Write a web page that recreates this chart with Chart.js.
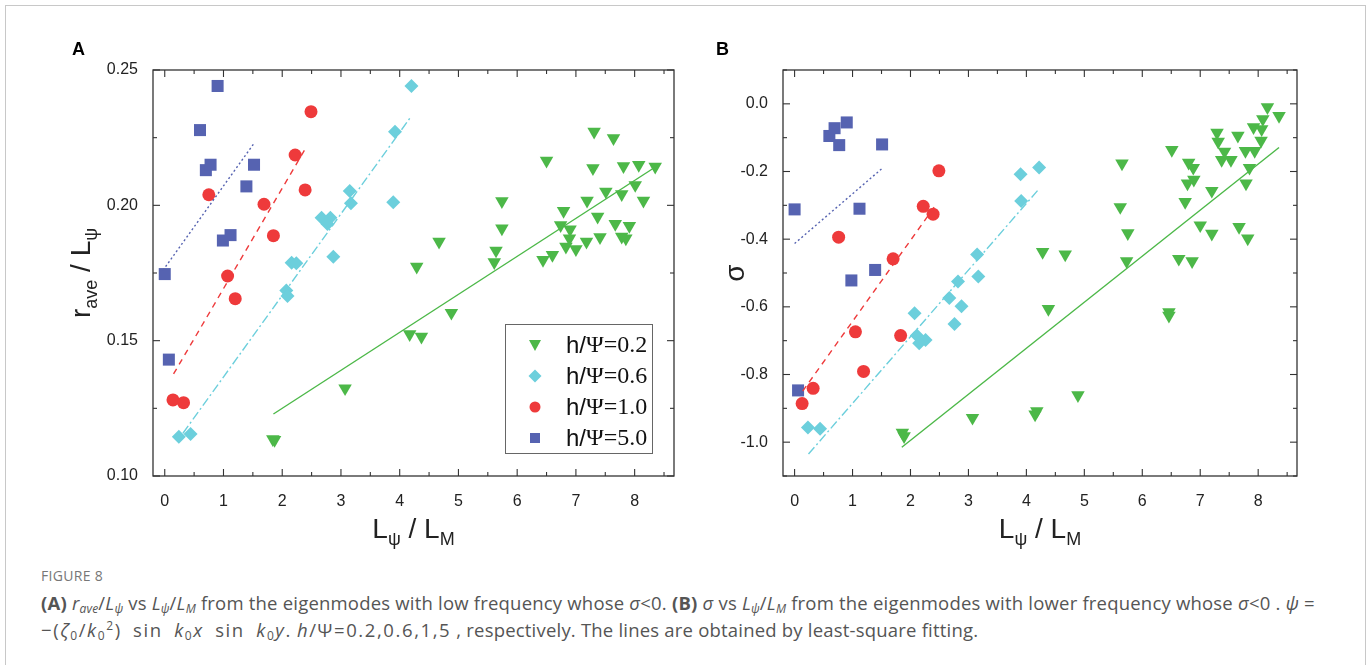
<!DOCTYPE html>
<html>
<head>
<meta charset="utf-8">
<script src="https://cdn.jsdelivr.net/npm/chart.js@4/dist/chart.umd.min.js"></script>
<style>
  body { margin: 0; background: #fff; width: 1370px; height: 665px; overflow: hidden; position: relative; }
  #box { position: absolute; left: 5px; top: 5px; width: 1359px; height: 700px; border: 1px solid #c8c8c8; }
  #cA { position: absolute; left: 0; top: 0; }
  #cB { position: absolute; left: 640px; top: 0; }
  .fig { position: absolute; left: 41px; top: 566px; font: 14px "Open Sans", sans-serif; color: #777; letter-spacing: 0.3px; }
  .cap { position: absolute; left: 41px; top: 589px; font: 18.5px/27px "Open Sans", sans-serif; color: #555; white-space: nowrap; letter-spacing: 0.2px; }
  .cap sub { font-size: 12px; vertical-align: -3px; line-height: 0; }
  .cap sup { font-size: 12px; vertical-align: 7px; line-height: 0; }
  .math { letter-spacing: 1.6px; word-spacing: 5px; }
</style>
</head>
<body>
<div id="box"></div>
<canvas id="cA" width="690" height="555"></canvas>
<canvas id="cB" width="670" height="555"></canvas>
<div class="fig">FIGURE 8</div>
<div class="cap"><b>(A)</b> <i>r<sub>ave</sub></i>/<i>L<sub>ψ</sub></i> vs <i>L<sub>ψ</sub></i>/<i>L<sub>M</sub></i> from the eigenmodes with low frequency whose <i>σ</i>&lt;0. <b>(B)</b> <i>σ</i> vs <i>L<sub>ψ</sub></i>/<i>L<sub>M</sub></i> from the eigenmodes with lower frequency whose <i>σ</i>&lt;0 . <i>ψ</i> =<br><span class="math">−(<i>ζ</i><sub>0</sub>/<i>k</i><sub>0</sub><sup>2</sup>) sin <i>k</i><sub>0</sub><i>x</i> sin <i>k</i><sub>0</sub><i>y</i>.</span> <span class="math"><i>h</i>/Ψ=0.2,0.6,1,5</span> , respectively. The lines are obtained by least-square fitting.</div>

<script>
// series labels
const seriesLabels = ['h/Ψ=0.2', 'h/Ψ=0.6', 'h/Ψ=1.0', 'h/Ψ=5.0'];

// axis ticks
const xMajor = [0, 1, 2, 3, 4, 5, 6, 7, 8];
const xMinor = [0.5, 1.5, 2.5, 3.5, 4.5, 5.5, 6.5, 7.5, 8.5];
const yMajorA = [0.10, 0.15, 0.20, 0.25];
const yMinorA = [0.125, 0.175, 0.225];
const yMajorB = [-1.0, -0.8, -0.6, -0.4, -0.2, 0.0];
const yMinorB = [-1.1, -0.9, -0.7, -0.5, -0.3, -0.1, 0.1];

// ---- panel A : r_ave / L_psi ----
const a02x = [7.31, 7.64, 6.50, 7.29, 7.81, 8.07, 8.35, 8.01, 5.74, 7.51, 7.78, 7.19, 8.15, 6.79, 7.37, 6.74, 6.90, 5.74, 7.67, 7.91,
              6.89, 7.18, 7.41, 7.78, 7.85, 6.83, 7.00, 4.67, 5.64, 5.61, 4.29, 6.44, 6.60, 4.17, 4.37, 4.88, 1.87, 1.84, 3.07];
const a02y = [0.2272, 0.2248, 0.2165, 0.2137, 0.2145, 0.2149, 0.2143, 0.2075, 0.2015, 0.2051, 0.2041, 0.2017, 0.2017, 0.1979, 0.1958, 0.1927, 0.1911, 0.1915, 0.1931, 0.1924,
              0.1878, 0.1866, 0.1882, 0.1884, 0.1878, 0.1847, 0.1838, 0.1866, 0.1833, 0.1790, 0.1773, 0.1798, 0.1817, 0.1524, 0.1515, 0.1603, 0.1133, 0.1136, 0.1324];
const a06x = [4.20, 3.92, 3.15, 3.17, 3.89, 2.67, 2.82, 2.77, 2.87, 2.16, 2.24, 2.07, 2.09, 0.24, 0.44];
const a06y = [0.2441, 0.2272, 0.2053, 0.2008, 0.2011, 0.1954, 0.1954, 0.1931, 0.1810, 0.1788, 0.1786, 0.1685, 0.1665, 0.1145, 0.1155];
const a10x = [2.49, 2.22, 2.39, 1.69, 1.85, 0.75, 1.07, 1.20, 0.14, 0.32];
const a10y = [0.2346, 0.2186, 0.2057, 0.2004, 0.1888, 0.2039, 0.1739, 0.1655, 0.1281, 0.1271];
const a50x = [0.00, 0.07, 0.90, 0.60, 0.70, 0.78, 1.39, 1.52, 0.99, 1.12];
const a50y = [0.1746, 0.1430, 0.2441, 0.2278, 0.2130, 0.2150, 0.2070, 0.2150, 0.1870, 0.1890];
// fitted lines (end points)
const a02fitX = [1.85, 8.32], a02fitY = [0.1229, 0.2137];
const a06fitX = [0.31, 4.18], a06fitY = [0.1158, 0.2324];
const a10fitX = [0.15, 2.42], a10fitY = [0.1377, 0.2219];
const a50fitX = [-0.03, 1.52], a50fitY = [0.1760, 0.2229];

// ---- panel B : sigma ----
const b02x = [8.16, 8.36, 8.08, 7.92, 8.06, 7.29, 7.65, 8.05, 7.31, 7.78, 7.94, 7.42, 7.53, 7.37, 6.51, 5.65, 6.80, 6.88, 7.85, 6.89,
              6.78, 7.79, 7.20, 6.74, 5.62, 7.00, 7.20, 7.67, 7.82, 5.75, 4.28, 4.67, 5.73, 6.63, 6.86, 4.38, 6.46, 6.46, 4.89, 4.18,
              4.15, 1.86, 1.89, 3.07];
const b02y = [-0.010, -0.036, -0.045, -0.069, -0.075, -0.085, -0.094, -0.109, -0.112, -0.139, -0.139, -0.141, -0.166, -0.166, -0.136, -0.176, -0.174, -0.189, -0.189, -0.224,
              -0.235, -0.235, -0.257, -0.290, -0.305, -0.359, -0.384, -0.364, -0.398, -0.382, -0.438, -0.445, -0.465, -0.458, -0.465, -0.606, -0.616, -0.626, -0.861, -0.908,
              -0.918, -0.972, -0.982, -0.928];
const b06x = [3.90, 4.22, 3.91, 3.15, 2.82, 3.17, 2.67, 2.88, 2.76, 2.07, 2.11, 2.26, 2.15, 0.23, 0.44];
const b06y = [-0.208, -0.188, -0.287, -0.445, -0.525, -0.510, -0.574, -0.598, -0.651, -0.619, -0.685, -0.698, -0.708, -0.957, -0.960];
const b10x = [2.49, 2.22, 2.39, 0.76, 1.70, 1.05, 1.83, 1.19, 0.32, 0.13];
const b10y = [-0.198, -0.303, -0.326, -0.394, -0.458, -0.674, -0.685, -0.791, -0.841, -0.886];
const b50x = [0.60, 0.69, 0.90, 0.77, 1.51, 0.00, 1.12, 1.39, 0.98, 0.06];
const b50y = [-0.095, -0.072, -0.055, -0.122, -0.120, -0.312, -0.310, -0.491, -0.522, -0.847];
const b02fitX = [1.85, 8.36], b02fitY = [-1.015, -0.129];
const b06fitX = [0.24, 4.20], b06fitY = [-1.035, -0.255];
const b10fitX = [0.14, 2.42], b10fitY = [-0.849, -0.303];
const b50fitX = [0.00, 1.51], b50fitY = [-0.413, -0.191];

const GREEN = '#4cb848', CYAN = '#6ccfdc', RED = '#ee3a3b', BLUE = '#5663b1';
const INK = '#222';

function pts(xs, ys) { return xs.map((x, i) => ({ x: x, y: ys[i] })); }

function markers(xs, ys, label, color, style) {
  const r = { triangle: 7.8, rectRot: 7, circle: 6.5, rect: 8.5 }[style];
  return {
    label: label, data: pts(xs, ys), pointStyle: style, pointRadius: r, pointHoverRadius: r,
    pointRotation: style === 'triangle' ? 180 : 0,
    backgroundColor: color, borderColor: color, borderWidth: 0, showLine: false
  };
}
function fit(xs, ys, color, dash) {
  return { label: '', data: pts(xs, ys), showLine: true, pointRadius: 0, borderColor: color,
           borderWidth: 1.4, borderDash: dash, fill: false };
}

// frame + inward ticks on all four sides, titles
const framePlugin = {
  id: 'frame',
  afterDatasetsDraw(chart, args, o) {
    const ctx = chart.ctx, a = chart.chartArea, sx = chart.scales.x, sy = chart.scales.y;
    ctx.save();
    ctx.strokeStyle = '#333';
    ctx.lineWidth = 1.3;
    ctx.strokeRect(a.left, a.top, a.right - a.left, a.bottom - a.top);
    ctx.lineWidth = 1.1;
    function ln(x1, y1, x2, y2) { ctx.beginPath(); ctx.moveTo(x1, y1); ctx.lineTo(x2, y2); ctx.stroke(); }
    function xt(vals, len) { vals.forEach(v => { const p = sx.getPixelForValue(v); ln(p, a.bottom, p, a.bottom - len); ln(p, a.top, p, a.top + len); }); }
    function yt(vals, len) { vals.forEach(v => { const p = sy.getPixelForValue(v); ln(a.left, p, a.left + len, p); ln(a.right, p, a.right - len, p); }); }
    xt(o.xMajor, 7); xt(o.xMinor, 4); yt(o.yMajor, 7); yt(o.yMinor, 4);

    // panel letter
    ctx.fillStyle = '#000';
    ctx.font = 'bold 18px "Liberation Sans", Arial, sans-serif';
    ctx.textBaseline = 'alphabetic';
    ctx.textAlign = 'left';
    ctx.fillText(o.letter, o.letterX, 55);

    // x title: L_psi / L_M
    const big = '28px "Liberation Sans", Arial, sans-serif', small = '18px "Liberation Sans", Arial, sans-serif';
    function rich(parts, cx, cy) {
      let w = 0;
      parts.forEach(p => { ctx.font = p[1] ? small : big; w += ctx.measureText(p[0]).width; });
      let x = cx - w / 2;
      parts.forEach(p => { ctx.font = p[1] ? small : big; ctx.fillText(p[0], x, cy + (p[1] ? 7 : 0)); x += ctx.measureText(p[0]).width; });
    }
    ctx.fillStyle = INK;
    rich([['L', 0], ['ψ', 1], [' / L', 0], ['M', 1]], (a.left + a.right) / 2, 538);
    // y title (rotated)
    ctx.save();
    ctx.translate(o.yTitleX, (a.top + a.bottom) / 2);
    ctx.rotate(-Math.PI / 2);
    rich(o.yTitle, 0, 0);
    ctx.restore();
    ctx.restore();
  }
};

// legend box drawn inside panel A
const legendPlugin = {
  id: 'boxLegend',
  afterDraw(chart, args, o) {
    if (!o.show) return;
    const ctx = chart.ctx;
    ctx.save();
    ctx.strokeStyle = '#666';
    ctx.lineWidth = 1;
    ctx.strokeRect(505.5, 324.5, 147, 129);
    const rows = [345, 376, 407, 438];
    const ds = [chart.data.datasets[4], chart.data.datasets[5], chart.data.datasets[6], chart.data.datasets[7]];
    ds.forEach((d, i) => {
      const cx = 535, cy = rows[i];
      ctx.fillStyle = d.backgroundColor;
      ctx.beginPath();
      if (d.pointStyle === 'triangle') { ctx.moveTo(cx - 6, cy - 5); ctx.lineTo(cx + 6, cy - 5); ctx.lineTo(cx, cy + 6); }
      else if (d.pointStyle === 'rectRot') { ctx.moveTo(cx, cy - 6.5); ctx.lineTo(cx + 6.5, cy); ctx.lineTo(cx, cy + 6.5); ctx.lineTo(cx - 6.5, cy); }
      else if (d.pointStyle === 'circle') { ctx.arc(cx, cy, 5.5, 0, Math.PI * 2); }
      else { ctx.rect(cx - 5, cy - 5, 10, 10); }
      ctx.closePath();
      ctx.fill();
      ctx.fillStyle = '#111';
      ctx.textBaseline = 'middle';
      ctx.textAlign = 'left';
      const lab = d.label;
      ctx.font = '24px "Liberation Sans", Arial, sans-serif';
      ctx.fillText('h/', 566, cy + 1);
      const w = ctx.measureText('h/').width;
      ctx.font = '24px "Liberation Serif", "Times New Roman", serif';
      ctx.fillText(lab.slice(2), 566 + w, cy + 1);
    });
    ctx.restore();
  }
};

function makeChart(id, sets, yMin, yMax, yTicks, yDec, yWidth, padRight, extra) {
  return new Chart(document.getElementById(id), {
    type: 'scatter',
    data: { datasets: sets },
    options: {
      responsive: false,
      animation: false,
      devicePixelRatio: 1,
      layout: { padding: { top: 70, right: padRight, bottom: 0, left: 0 } },
      plugins: {
        legend: { display: false },
        tooltip: { enabled: false },
        frame: extra,
        boxLegend: { show: extra.letter === 'A' }
      },
      scales: {
        x: {
          type: 'linear', min: -0.2, max: 8.67,
          grid: { display: false }, border: { display: false },
          ticks: { color: INK, padding: 8,
                   font: { family: '"Liberation Sans", Arial, sans-serif', size: 16 } },
          afterBuildTicks(s) { s.ticks = xMajor.map(v => ({ value: v })); },
          afterFit(s) { s.height = 79; }
        },
        y: {
          type: 'linear', min: yMin, max: yMax,
          grid: { display: false }, border: { display: false },
          ticks: { color: INK, padding: 7,
                   font: { family: '"Liberation Sans", Arial, sans-serif', size: 16 },
                   callback: v => (Math.abs(v) < 1e-9 ? 0 : v).toFixed(yDec) },
          afterBuildTicks(s) { s.ticks = yTicks.map(v => ({ value: v })); },
          afterFit(s) { s.width = yWidth; }
        }
      }
    },
    plugins: [framePlugin, legendPlugin]
  });
}

const setsA = [
  fit(a02fitX, a02fitY, GREEN, []),
  fit(a06fitX, a06fitY, CYAN, [9, 3, 2, 3]),
  fit(a10fitX, a10fitY, RED, [6, 5]),
  fit(a50fitX, a50fitY, BLUE, [2, 2.5]),
  markers(a02x, a02y, seriesLabels[0], GREEN, 'triangle'),
  markers(a06x, a06y, seriesLabels[1], CYAN, 'rectRot'),
  markers(a10x, a10y, seriesLabels[2], RED, 'circle'),
  markers(a50x, a50y, seriesLabels[3], BLUE, 'rect')
];
const setsB = [
  fit(b02fitX, b02fitY, GREEN, []),
  fit(b06fitX, b06fitY, CYAN, [9, 3, 2, 3]),
  fit(b10fitX, b10fitY, RED, [6, 5]),
  fit(b50fitX, b50fitY, BLUE, [2, 2.5]),
  markers(b02x, b02y, seriesLabels[0], GREEN, 'triangle'),
  markers(b06x, b06y, seriesLabels[1], CYAN, 'rectRot'),
  markers(b10x, b10y, seriesLabels[2], RED, 'circle'),
  markers(b50x, b50y, seriesLabels[3], BLUE, 'rect')
];

makeChart('cA', setsA, 0.10, 0.25, yMajorA, 2, 153, 16, {
  xMajor: xMajor, xMinor: xMinor, yMajor: yMajorA, yMinor: yMinorA,
  letter: 'A', letterX: 72, yTitleX: 90,
  yTitle: [['r', 0], ['ave', 1], [' / L', 0], ['ψ', 1]]
});
makeChart('cB', setsB, -1.1, 0.1, yMajorB, 1, 143, 13, {
  xMajor: xMajor, xMinor: xMinor, yMajor: yMajorB, yMinor: yMinorB,
  letter: 'B', letterX: 76, yTitleX: 104,
  yTitle: [['σ', 0]]
});
</script>
</body>
</html>
